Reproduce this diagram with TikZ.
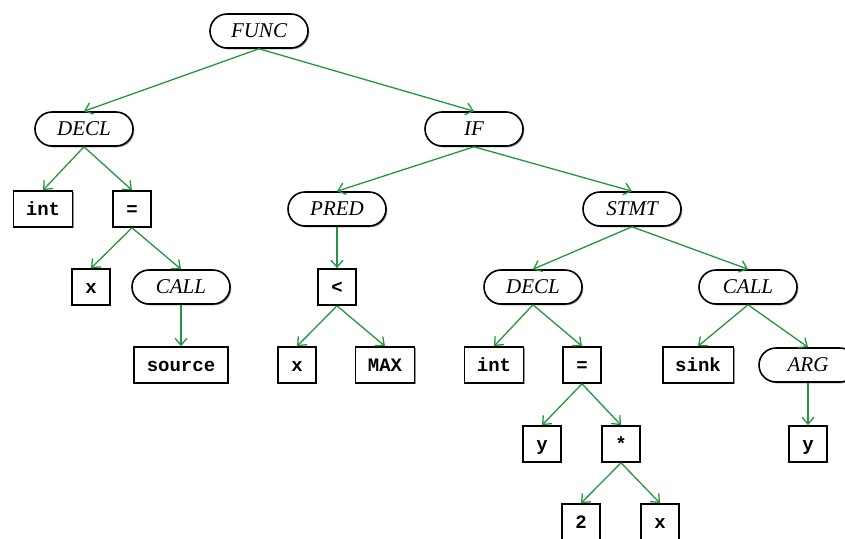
\documentclass[tikz,border=0pt]{standalone}
\usepackage{fontspec}
\setmainfont{Liberation Serif}
\setmonofont{Liberation Mono}
\usetikzlibrary{shapes.misc,shadows,arrows.meta}
\definecolor{edgegreen}{RGB}{38,150,62}
\tikzset{
  base/.style={draw=black, line width=1.6pt, fill=white, inner sep=0pt,
    drop shadow={shadow xshift=1.3pt, shadow yshift=-1.3pt, opacity=0.6, fill=black!70},
    text height=15pt, text depth=2pt},
  kw/.style={base, rounded rectangle, minimum width=98pt, minimum height=34pt,
    font=\fontsize{21}{24}\selectfont\itshape},
  leaf/.style={base, rectangle, minimum width=38pt, minimum height=36pt, inner xsep=12.5pt,
    font=\fontsize{19}{22}\selectfont\ttfamily\bfseries},
  edge/.style={draw=edgegreen, line width=1.3pt, -{Straight Barb[length=7pt,width=12pt]}}
}
\begin{document}
\begin{tikzpicture}[x=1pt,y=-1pt]
\useasboundingbox (0,0) rectangle (845,538);
\clip (0,0) rectangle (845,538);
\node[kw] (func) at (259,31) {FUNC};
\node[kw] (decl) at (84,129) {DECL};
\node[kw] (if) at (474,129) {IF};
\node[leaf] (int) at (43,209) {int};
\node[leaf] (eq) at (132,209) {=};
\node[kw] (pred) at (337,209) {PRED};
\node[kw] (stmt) at (632,209) {STMT};
\node[leaf] (x1) at (91,287) {x};
\node[kw] (call) at (181,287) {CALL};
\node[leaf] (lt) at (337,287) {<};
\node[kw] (decl2) at (533,287) {DECL};
\node[kw] (call2) at (748,287) {CALL};
\node[leaf] (source) at (181,365) {source};
\node[leaf] (x2) at (297,365) {x};
\node[leaf] (max) at (385,365) {MAX};
\node[leaf] (int2) at (494,365) {int};
\node[leaf] (eq2) at (582,365) {=};
\node[leaf] (sink) at (698,365) {sink};
\node[kw] (arg) at (808,365) {ARG};
\node[leaf] (y1) at (542,444) {y};
\node[leaf] (mul) at (621,444) {*};
\node[leaf] (y2) at (808,444) {y};
\node[leaf] (two) at (581,522) {2};
\node[leaf] (x3) at (660,522) {x};
\foreach \a/\b in {func/decl,func/if,decl/int,decl/eq,if/pred,if/stmt,eq/x1,eq/call,call/source,
  pred/lt,lt/x2,lt/max,stmt/decl2,stmt/call2,decl2/int2,decl2/eq2,call2/sink,call2/arg,
  eq2/y1,eq2/mul,arg/y2,mul/two,mul/x3}
  \draw[edge] (\a.south) -- (\b.north);
\end{tikzpicture}
\end{document}
